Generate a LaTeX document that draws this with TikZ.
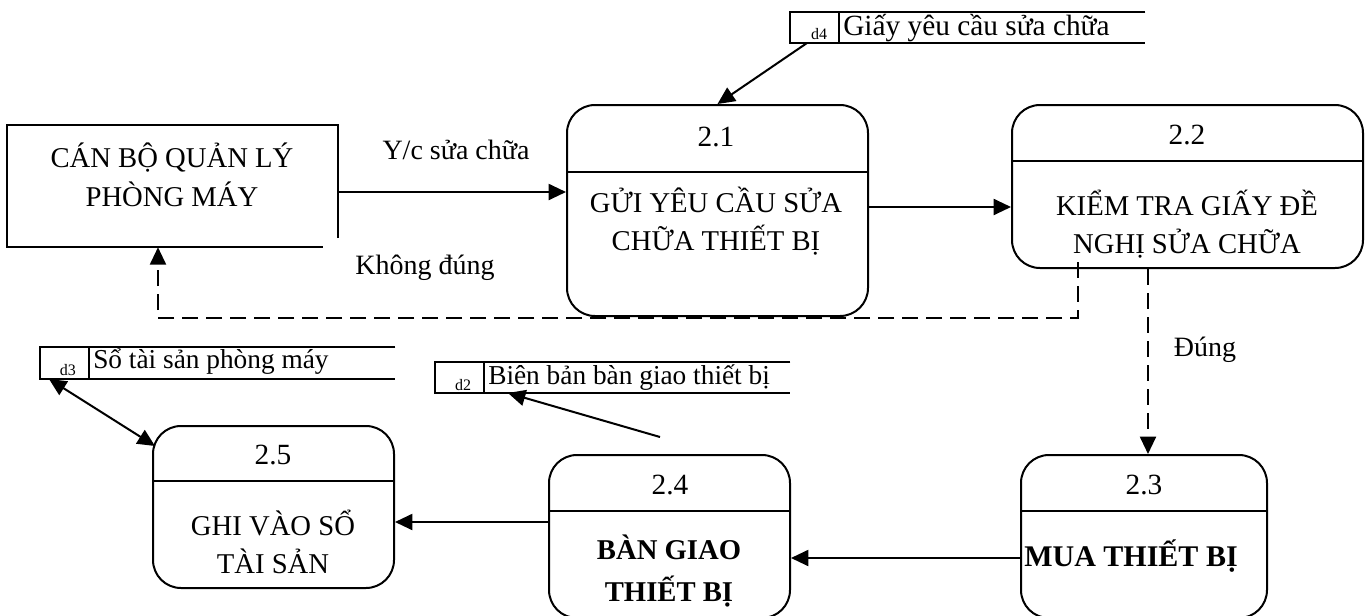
\documentclass[tikz,border=0pt]{standalone}
\usepackage{fontspec}
\setmainfont{Liberation Serif}
\usetikzlibrary{arrows.meta,fit}
\tikzset{
  ln/.style={line width=1.5pt},
  proc/.style={draw,line width=1.5pt,rounded corners=21pt,inner sep=0pt},
  area/.style={inner sep=0pt},
  arr/.style={line width=1.5pt,-{Triangle[length=13pt,width=12pt]}},
  darr/.style={line width=1.5pt,dash pattern=on 12pt off 6pt,-{Triangle[length=13pt,width=12pt]}},
  dblarr/.style={line width=1.5pt,{Triangle[length=13pt,width=12pt]}-{Triangle[length=13pt,width=12pt]}},
  num/.style={font=\fontsize{22}{26}\selectfont,inner sep=0pt},
  body/.style={font=\fontsize{21.5}{29}\selectfont,align=center,inner sep=0pt},
  bbody/.style={font=\fontsize{21.5}{31}\selectfont\bfseries,align=center,inner sep=0pt},
  lbl/.style={font=\fontsize{21}{25}\selectfont,inner sep=0pt},
  dst/.style={font=\fontsize{20.5}{24}\selectfont,inner sep=0pt,anchor=west},
  did/.style={font=\fontsize{12}{14}\selectfont,inner sep=0pt}
}
\begin{document}
\begin{tikzpicture}[x=0.75pt,y=-0.75pt]
\useasboundingbox (0,0) rectangle (1372,615);
\clip (0,0) rectangle (1372,615);

% external entity
\node[area,fit={(7,125) (338,247)}] (ent) {};
\draw[ln] (338,238) -- (338,125) -- (7,125) -- (7,247) -- (323,247);
\node[body] (entt) at (172,175) {CÁN BỘ QUẢN LÝ\\PHÒNG MÁY};

% processes
\node[proc,fit={(567,105) (868,316)}] (p21) {};
\draw[ln] (p21.west |- 0,172) -- (p21.east |- 0,172);
\node[num] (n21) at (716,137) {2.1};
\node[body] (t21) at (716,221) {GỬI YÊU CẦU SỬA\\CHỮA THIẾT BỊ};

\node[proc,fit={(1012,105) (1363,268)}] (p22) {};
\draw[ln] (p22.west |- 0,161) -- (p22.east |- 0,161);
\node[num] (n22) at (1187,135) {2.2};
\node[body] (t22) at (1187,224) {KIỂM TRA GIẤY ĐỀ\\NGHỊ SỬA CHỮA};

\node[proc,fit={(1021,455) (1267,618)}] (p23) {};
\draw[ln] (p23.west |- 0,511) -- (p23.east |- 0,511);
\node[num] (n23) at (1144,485) {2.3};
\node[bbody,font=\fontsize{22.5}{31}\selectfont\bfseries] (t23) at (1131,556) {MUA THIẾT BỊ};

\node[proc,fit={(549,455) (790,618)}] (p24) {};
\draw[ln] (p24.west |- 0,511) -- (p24.east |- 0,511);
\node[num] (n24) at (670,485) {2.4};
\node[bbody] (t24) at (669,571) {BÀN GIAO\\THIẾT BỊ};

\node[proc,fit={(153,426) (394,588)}] (p25) {};
\draw[ln] (p25.west |- 0,481) -- (p25.east |- 0,481);
\node[num] (n25) at (273,455) {2.5};
\node[body] (t25) at (273,542) {GHI VÀO SỔ\\TÀI SẢN};

% data stores
\node[area,fit={(790,12) (1145,43)}] (d4) {};
\draw[ln] (d4.north east) -- (d4.north west) -- (d4.south west) -- (d4.south east);
\draw[ln] (839,12) -- (839,43);
\node[did] (d4id) at (819,34) {d4};
\node[dst,font=\fontsize{22}{26}\selectfont] (d4t) at (843,28) {Giấy yêu cầu sửa chữa};

\node[area,fit={(40,347) (395,379)}] (d3) {};
\draw[ln] (d3.north east) -- (d3.north west) -- (d3.south west) -- (d3.south east);
\draw[ln] (89,347) -- (89,379);
\node[did] (d3id) at (68,370) {d3};
\node[dst] (d3t) at (93,362) {Sổ tài sản phòng máy};

\node[area,fit={(435,362) (790,393)}] (d2) {};
\draw[ln] (d2.north east) -- (d2.north west) -- (d2.south west) -- (d2.south east);
\draw[ln] (484,362) -- (484,393);
\node[did] (d2id) at (463,385) {d2};
\node[dst] (d2t) at (488,378) {Biên bản bàn giao thiết bị};

% flows
\draw[arr] (ent.east |- 0,192) -- (p21.west |- 0,192);
\node[lbl] (l1) at (456,150) {Y/c sửa chữa};
\draw[arr] (p21.east |- 0,207) -- (p22.west |- 0,207);
\draw[arr] (807,43) -- (p21.north);
\coordinate (kd) at (1078,262);
\draw[darr] (kd) -- (1078,318) -- (158,318) -- (ent.south -| 158,0);
\node[lbl] (l2) at (425,268) {Không đúng};
\draw[darr] (p22.south -| 1148,0) -- (p23.north -| 1148,0);
\node[lbl] (l3) at (1205,350) {Đúng};
\draw[arr] (p23.west |- 0,558) -- (p24.east |- 0,558);
\draw[arr] (p24.west |- 0,522) -- (p25.east |- 0,522);
\coordinate (bt) at (660,437);
\draw[arr] (bt) -- (508,393);
\draw[dblarr] (49,379) -- (155,446);
\end{tikzpicture}
\end{document}
